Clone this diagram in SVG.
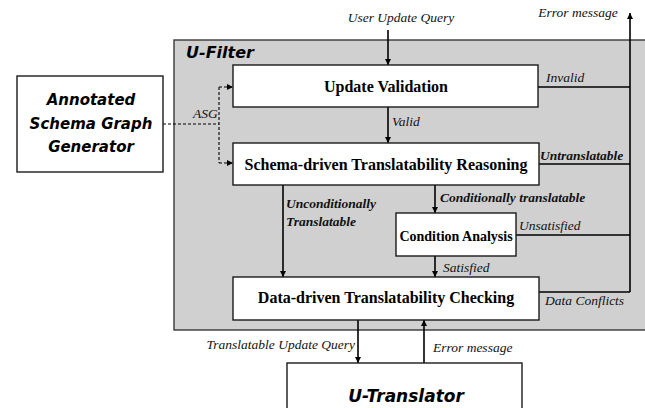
<svg xmlns="http://www.w3.org/2000/svg" width="645" height="408" viewBox="0 0 645 408">
  <style>
    .box { fill: #ffffff; stroke: #1a1a1a; stroke-width: 1.4; }
    .panel { fill: #d0d0d0; stroke: #3a3a3a; stroke-width: 1.4; }
    .title { font-family: "Liberation Serif", "Times New Roman", serif; font-weight: bold; fill: #000; text-anchor: middle; }
    .lbl { font-family: "Liberation Serif", "Times New Roman", serif; font-style: italic; font-size: 13.5px; fill: #111; }
    .blbl { font-family: "Liberation Serif", "Times New Roman", serif; font-style: italic; font-weight: bold; font-size: 13.5px; fill: #111; }
    .hand { font-family: "DejaVu Sans", sans-serif; font-style: italic; font-weight: bold; fill: #000; }
    .wire { fill: none; stroke: #000; stroke-width: 1.6; }
    .dash { fill: none; stroke: #000; stroke-width: 1.1; stroke-dasharray: 3 2; }
  </style>
  <defs>
    <marker id="ah" viewBox="0 0 10 10" refX="10" refY="5" markerWidth="7" markerHeight="6" orient="auto" markerUnits="userSpaceOnUse">
      <path d="M0,0 L10,5 L0,10 z" fill="#000"/>
    </marker>
    <marker id="ahs" viewBox="0 0 10 10" refX="10" refY="5" markerWidth="9" markerHeight="6" orient="auto" markerUnits="userSpaceOnUse">
      <path d="M0,0 L10,5 L0,10 z" fill="#000"/>
    </marker>
  </defs>

  <!-- U-Filter container -->
  <g id="u-filter">
    <rect class="panel" x="174" y="40" width="472" height="290"/>
    <text class="hand" x="186" y="58" font-size="16">U-Filter</text>
  </g>

  <!-- connectors -->
  <g id="connectors">
    <!-- user query into validation -->
    <line class="wire" x1="388" y1="30" x2="388" y2="65" marker-end="url(#ah)"/>
    <!-- valid -->
    <line class="wire" x1="388" y1="107" x2="388" y2="143" marker-end="url(#ah)"/>
    <!-- conditionally translatable -->
    <line class="wire" x1="435" y1="185" x2="435" y2="213" marker-end="url(#ah)"/>
    <!-- satisfied -->
    <line class="wire" x1="435" y1="256" x2="435" y2="277" marker-end="url(#ah)"/>
    <!-- unconditionally translatable -->
    <line class="wire" x1="283" y1="185" x2="283" y2="277" marker-end="url(#ah)"/>
    <!-- error collection bus -->
    <line class="wire" x1="630" y1="292" x2="630" y2="13" marker-end="url(#ah)"/>
    <line class="wire" x1="538" y1="87" x2="630" y2="87"/>
    <line class="wire" x1="539" y1="164" x2="630" y2="164"/>
    <line class="wire" x1="516" y1="235" x2="630" y2="235"/>
    <line class="wire" x1="539" y1="292" x2="630" y2="292"/>
    <!-- to / from U-Translator -->
    <line class="wire" x1="358" y1="320" x2="358" y2="363" marker-end="url(#ah)"/>
    <line class="wire" x1="424" y1="363" x2="424" y2="320" marker-end="url(#ah)"/>
    <!-- annotated schema graph feed -->
    <line class="dash" x1="163" y1="124" x2="219" y2="124" stroke-dasharray="2 1"/>
    <line class="dash" x1="219" y1="87" x2="219" y2="163"/>
    <line class="dash" x1="219" y1="87" x2="233" y2="87" marker-end="url(#ahs)"/>
    <line class="dash" x1="219" y1="163" x2="233" y2="163" marker-end="url(#ahs)"/>

    <text class="lbl" x="401" y="22" text-anchor="middle">User Update Query</text>
    <text class="lbl" x="578" y="17" text-anchor="middle">Error message</text>
    <text class="lbl" x="546" y="82">Invalid</text>
    <text class="lbl" x="392" y="126">Valid</text>
    <text class="blbl" x="540" y="160">Untranslatable</text>
    <text class="blbl" x="440" y="202">Conditionally translatable</text>
    <text class="blbl" x="286" y="208">Unconditionally</text>
    <text class="blbl" x="286" y="226">Translatable</text>
    <text class="lbl" x="519" y="230">Unsatisfied</text>
    <text class="lbl" x="443" y="272">Satisfied</text>
    <text class="lbl" x="545" y="305">Data Conflicts</text>
    <text class="lbl" x="355" y="349" text-anchor="end">Translatable Update Query</text>
    <text class="lbl" x="433" y="352">Error message</text>
    <text class="lbl" x="193" y="118">ASG</text>
  </g>

  <g id="annotated-schema-graph-generator">
    <rect class="box" x="17" y="76" width="146" height="96"/>
    <text class="hand" x="91" y="105" font-size="15" text-anchor="middle">Annotated</text>
    <text class="hand" x="91" y="129" font-size="15" text-anchor="middle">Schema Graph</text>
    <text class="hand" x="91" y="152" font-size="15" text-anchor="middle">Generator</text>
  </g>

  <g id="update-validation">
    <rect class="box" x="233" y="65" width="305" height="42"/>
    <text class="title" x="386" y="92" font-size="16">Update Validation</text>
  </g>

  <g id="schema-driven-reasoning">
    <rect class="box" x="233" y="143" width="306" height="42"/>
    <text class="title" x="386" y="170" font-size="16">Schema-driven Translatability Reasoning</text>
  </g>

  <g id="condition-analysis">
    <rect class="box" x="396" y="213" width="120" height="43"/>
    <text class="title" x="456" y="241" font-size="14">Condition Analysis</text>
  </g>

  <g id="data-driven-checking">
    <rect class="box" x="233" y="277" width="306" height="43"/>
    <text class="title" x="386" y="303" font-size="16">Data-driven Translatability Checking</text>
  </g>

  <g id="u-translator">
    <rect class="box" x="287" y="363" width="235" height="60"/>
    <text class="hand" x="406" y="402" font-size="17" text-anchor="middle">U-Translator</text>
  </g>
</svg>
